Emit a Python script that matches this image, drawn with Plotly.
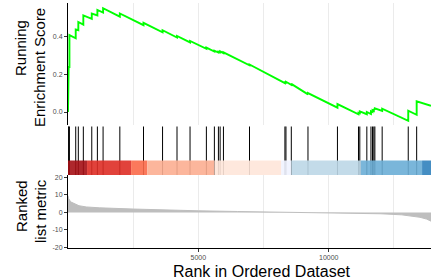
import plotly.graph_objects as go

# ---------------- data ----------------
n_genes_visible = 13923

hit_ranks = [5, 25, 55, 296, 396, 588, 912, 1127, 1346, 1988, 2896, 3627, 4181, 4681,
             5308, 5615, 5769, 5835, 5962, 6962, 8320, 8360, 8565, 9204, 10335,
             11142, 11192, 11462, 11620, 11680, 11730, 11770, 12050, 13050, 13373]
es_before = [0.000, 0.140, 0.240, 0.393, 0.436, 0.466, 0.497, 0.515, 0.530, 0.508,
             0.463, 0.425, 0.397, 0.371, 0.337, 0.322, 0.317, 0.318, 0.314, 0.249,
             0.154, 0.157, 0.145, 0.094, 0.023, -0.012, -0.006, -0.012, -0.011,
             0.000, 0.006, 0.012, 0.006, -0.047, -0.015]
es_after = [0.140, 0.240, 0.410, 0.440, 0.480, 0.515, 0.525, 0.544, 0.553, 0.525,
            0.475, 0.436, 0.405, 0.379, 0.343, 0.327, 0.322, 0.323, 0.318, 0.253,
            0.158, 0.161, 0.150, 0.101, 0.042, -0.004, 0.003, 0.000, 0.004,
            0.010, 0.016, 0.020, 0.018, 0.007, 0.057]
es_end = 0.033

metric_rank = [0, 20, 100, 250, 420, 700, 1200, 2500, 3750, 5000, 6500, 8000, 9500,
               11000, 12000, 12800, 13100, 13500, 13750, 13923]
metric_val = [9.5, 8.0, 6.0, 4.8, 3.8, 3.1, 2.6, 1.9, 1.3, 0.9, 0.5, 0.2, -0.1,
              -0.4, -0.8, -1.4, -1.9, -2.8, -3.8, -5.0]

bar_edges = [0, 730, 2420, 3040, 5615, 8180, 8565, 11230, 13580, n_genes_visible]
bar_colors = ["#A50F15", "#DE2D26", "#FB6A4A", "#FCAE91", "#FEE5D9",
              "#EFF3FF", "#BDD7E7", "#6BAED6", "#3182BD"]

es_ticks = [0.0, 0.2, 0.4]
es_ticktext = ["0.0", "0.2", "0.4"]
metric_ticks = [-20, -10, 0, 10, 20]
metric_ticktext = ["-20", "-10", "0", "10", "20"]
x_ticks = [5000, 10000]
x_ticktext = ["5000", "10000"]

# ---------------- build ----------------
assert len(hit_ranks) == len(es_before) == len(es_after)
es_x = [0]
es_y = [0.0]
for r, b, a in zip(hit_ranks, es_before, es_after):
    es_x += [r, r]
    es_y += [b, a]
es_x.append(n_genes_visible)
es_y.append(es_end)

hx, hy = [], []
for r in hit_ranks:
    hx += [r, r, None]
    hy += [0, 0.97, None]

FONT = "Liberation Sans, Arial, sans-serif"
GRID = "#EBEBEB"
TICKF = dict(family=FONT, size=7, color="#4D4D4D")

fig = go.Figure()
fig.add_trace(go.Scatter(x=es_x, y=es_y, mode="lines", xaxis="x", yaxis="y",
                         line=dict(color="#00FF00", width=1.9), hoverinfo="skip"))
fig.add_trace(go.Scatter(x=hx, y=hy, mode="lines", xaxis="x2", yaxis="y2",
                         line=dict(color="black", width=1), hoverinfo="skip"))
fig.add_trace(go.Scatter(x=metric_rank, y=metric_val, mode="lines", fill="tozeroy",
                         xaxis="x3", yaxis="y3",
                         line=dict(color="#BEBEBE", width=1), fillcolor="#BEBEBE",
                         hoverinfo="skip"))

shapes = []
for i, c in enumerate(bar_colors):
    shapes.append(dict(type="rect", xref="x2", yref="y2",
                       x0=bar_edges[i], x1=bar_edges[i + 1], y0=0, y1=0.29,
                       fillcolor=c, opacity=0.9, line=dict(width=0), layer="above"))

xr = [0, n_genes_visible]
D_TOP = [(248 - 125) / 245, 1.0]
D_MID = [(248 - 175) / 245, (248 - 125) / 245]
D_BOT = [0.0, (248 - 175) / 245]

common_x = dict(range=xr, showgrid=True, gridcolor=GRID, gridwidth=1, zeroline=False,
                automargin=False,
                minor=dict(tick0=0, dtick=2500, showgrid=True, gridcolor=GRID,
                           gridwidth=1, ticks=""))
common_y = dict(tickfont=TICKF, ticks="outside", ticklen=3, tickwidth=0.8,
                tickcolor="#333333", showline=True, linecolor="black", linewidth=1,
                showgrid=False, zeroline=False, automargin=False)

fig.update_layout(
    template="none",
    width=431, height=279,
    margin=dict(l=68, r=0, t=3, b=31, pad=0, autoexpand=False),
    paper_bgcolor="white", plot_bgcolor="white",
    showlegend=False,
    font=dict(family=FONT, color="black"),
    xaxis=dict(domain=[0, 1], anchor="y", showticklabels=False, ticks="",
               showline=False, tickvals=x_ticks, **common_x),
    yaxis=dict(domain=D_TOP, anchor="x", range=[-0.0693, 0.581],
               tickvals=es_ticks, ticktext=es_ticktext, **common_y),
    xaxis2=dict(domain=[0, 1], anchor="y2", range=xr, visible=False, matches="x",
                automargin=False),
    yaxis2=dict(domain=D_MID, anchor="x2", range=[0, 1], visible=False,
                automargin=False),
    xaxis3=dict(domain=[0, 1], anchor="y3", tickvals=x_ticks, ticktext=x_ticktext,
                tickfont=TICKF, ticks="outside", ticklen=3, tickwidth=0.8,
                tickcolor="#333333", showline=True, linecolor="black", linewidth=1,
                matches="x", **common_x),
    yaxis3=dict(domain=D_BOT, anchor="x3", range=[-20.3, 21.3],
                tickvals=metric_ticks, ticktext=metric_ticktext, **common_y),
    shapes=shapes,
)

def px_x(x):
    return (x - 68) / 363.0

def px_y(y):
    return (248 - y) / 245.0

TITLEF = dict(family=FONT, size=15, color="black")
ann = [
    dict(text="Running", x=px_x(21), y=px_y(48), textangle=-90),
    dict(text="Enrichment Score", x=px_x(40), y=px_y(68), textangle=-90),
    dict(text="Ranked", x=px_x(21), y=px_y(206), textangle=-90),
    dict(text="list metric", x=px_x(40), y=px_y(211), textangle=-90),
]
for a in ann:
    fig.add_annotation(xref="paper", yref="paper", showarrow=False,
                       xanchor="center", yanchor="middle", font=TITLEF, **a)
fig.add_annotation(text="Rank in Ordered Dataset", xref="paper", yref="paper",
                   x=px_x(261.5), y=px_y(271.5), showarrow=False,
                   xanchor="center", yanchor="middle",
                   font=dict(family=FONT, size=16, color="black"))

fig.write_html("out.html",
               config={"displayModeBar": False},
               post_script="document.body.style.margin='0';"
                           "document.body.style.padding='0';")
